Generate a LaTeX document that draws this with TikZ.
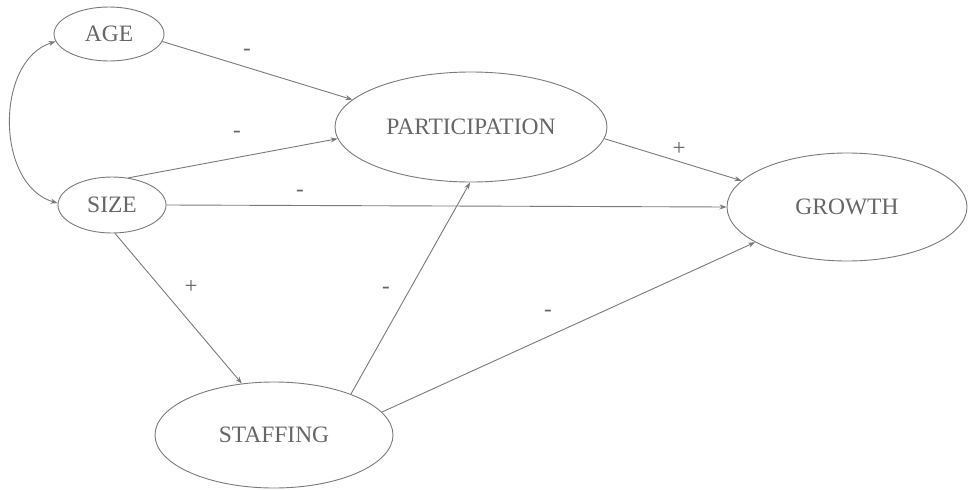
\documentclass[tikz,border=0pt]{standalone}
\usepackage{fontspec}
\setmainfont{Liberation Serif}
\usetikzlibrary{shapes.geometric,arrows.meta}
\definecolor{lin}{HTML}{7A7A7A}
\definecolor{txt}{HTML}{666666}
\tikzset{
  var/.style={ellipse, draw=lin, line width=0.9pt, inner sep=0pt, text=txt,
    font=\fontsize{23.5}{26}\selectfont},
  conn/.style={draw=lin, line width=0.9pt, -{Stealth[length=7pt,width=5pt]}},
  sign/.style={text=txt, inner sep=0pt, font=\fontsize{23}{26}\selectfont}
}
\begin{document}
\begin{tikzpicture}[x=1pt,y=-1pt]
\useasboundingbox[fill=white] (0,0) rectangle (972,490);
\node[var, minimum width=110pt, minimum height=54pt] (age) at (109,34) {AGE};
\node[var, minimum width=108pt, minimum height=56pt] (size) at (112,205) {SIZE};
\node[var, minimum width=272pt, minimum height=110pt] (part) at (471,127) {PARTICIPATION};
\node[var, minimum width=240pt, minimum height=108pt] (growth) at (847,207) {GROWTH};
\node[var, minimum width=238pt, minimum height=106pt] (staff) at (274,435) {STAFFING};

\draw[conn] (age.-8) -- (part.167.6);
\draw[conn] (size.59) -- (part.185.9);
\draw[conn] (size.0) -- (growth.180);
\draw[conn] (part.-5.5) -- (growth.166.6);
\draw[conn] (staff.28) -- (part.269);
\draw[conn] (staff.12.7) -- (growth.201);
\draw[conn] (size.276) -- (staff.122);
\draw[draw=lin, line width=0.9pt, {Stealth[length=7pt,width=5pt]}-{Stealth[length=7pt,width=5pt]}]
  (age.188) .. controls (-5,60) and (-5,185) .. (size.178);

\node[sign] (s1) at (247,52) {-};
\node[sign] (s2) at (237,134) {-};
\node[sign] (s3) at (300,193) {-};
\node[sign] (s4) at (679,149) {+};
\node[sign] (s5) at (191,287) {+};
\node[sign] (s6) at (386,290) {-};
\node[sign] (s7) at (548,313) {-};
\end{tikzpicture}
\end{document}
